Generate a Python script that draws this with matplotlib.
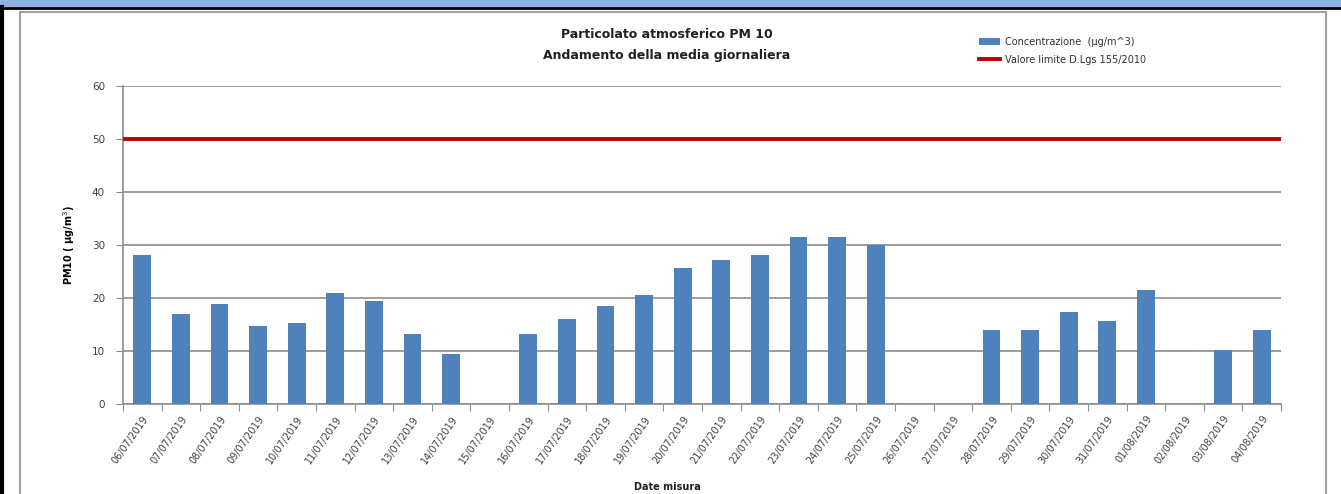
import matplotlib
matplotlib.use("Agg")
import matplotlib.pyplot as plt
from matplotlib.patches import Rectangle
from matplotlib.lines import Line2D
import numpy as np

dates = ["06/07/2019", "07/07/2019", "08/07/2019", "09/07/2019", "10/07/2019",
         "11/07/2019", "12/07/2019", "13/07/2019", "14/07/2019", "15/07/2019",
         "16/07/2019", "17/07/2019", "18/07/2019", "19/07/2019", "20/07/2019",
         "21/07/2019", "22/07/2019", "23/07/2019", "24/07/2019", "25/07/2019",
         "26/07/2019", "27/07/2019", "28/07/2019", "29/07/2019", "30/07/2019",
         "31/07/2019", "01/08/2019", "02/08/2019", "03/08/2019", "04/08/2019"]
concentrazione = [28.1, 17.0, 18.8, 14.7, 15.3, 20.9, 19.5, 13.2, 9.4, np.nan,
                  13.2, 16.0, 18.4, 20.5, 25.7, 27.1, 28.1, 31.5, 31.5, 30.0,
                  np.nan, np.nan, 14.0, 14.0, 17.4, 15.7, 21.5, np.nan, 10.1, 14.0]
limite = 50
yticks = [0, 10, 20, 30, 40, 50, 60]

W, H = 1341, 494
fig = plt.figure(figsize=(W / 100, H / 100), dpi=100)
fig.patch.set_facecolor("white")

# frame decorations (spreadsheet screenshot)
fig.patches.append(Rectangle((0, 1 - 7 / H), 1, 7 / H, transform=fig.transFigure,
                             facecolor="#8DB3E2", edgecolor="none", zorder=0))
fig.lines.append(Line2D([0, 1], [1 - 8 / H, 1 - 8 / H], transform=fig.transFigure,
                        color="black", lw=2))
fig.lines.append(Line2D([1.5 / W, 1.5 / W], [0, 1 - 7 / H], transform=fig.transFigure,
                        color="black", lw=3))
fig.patches.append(Rectangle((20 / W, -0.05), (1326 - 20) / W, 1 - 12 / H + 0.05,
                             transform=fig.transFigure, facecolor="none",
                             edgecolor="#a0a0a0", lw=1.5, zorder=0))

ax = fig.add_axes([123 / W, 1 - 404 / H, (1281 - 123) / W, (404 - 86) / H])
x = np.arange(len(dates))
bars = ax.bar(x, concentrazione, width=0.46, color="#4F81BD", zorder=3,
              label="Concentrazione  (µg/m^3)")
line = ax.axhline(limite, color="#C00000", lw=2.8, zorder=4,
                  label="Valore limite D.Lgs 155/2010")

ax.set_xlim(-0.5, len(dates) - 0.5)
ax.set_ylim(0, 60)
ax.set_yticks(yticks)
ax.yaxis.grid(True, color="#8c8c8c", lw=1.2, zorder=0)
ax.set_axisbelow(True)
for s in ["top", "right"]:
    ax.spines[s].set_visible(False)
for s in ["left", "bottom"]:
    ax.spines[s].set_color("#8c8c8c")
    ax.spines[s].set_linewidth(1.2)
ax.set_xticks(np.arange(len(dates) + 1) - 0.5, minor=False)
ax.set_xticklabels([])
ax.set_xticks(x, minor=True)
ax.set_xticklabels(dates, minor=True, rotation=55, ha="right", rotation_mode="anchor",
                   fontsize=7, color="#404040")
ax.tick_params(axis="x", which="major", length=5, color="#8c8c8c", direction="out")
ax.tick_params(axis="x", which="minor", length=0, pad=7)
ax.tick_params(axis="y", length=5, color="#8c8c8c", labelsize=7.5, labelcolor="#404040", pad=8)

ax.set_ylabel("PM10 ( µg/m$^3$)", fontsize=7, fontweight="bold", labelpad=11)
fig.text(667 / W, 1 - 487 / H, "Date misura", ha="center", va="center",
         fontsize=7, fontweight="bold", color="#202020")

fig.text(667 / W, 1 - 35 / H, "Particolato atmosferico PM 10", ha="center", va="center",
         fontsize=9, fontweight="bold", color="#202020")
fig.text(667 / W, 1 - 56 / H, "Andamento della media giornaliera", ha="center", va="center",
         fontsize=9, fontweight="bold", color="#202020")

leg = fig.legend(handles=[bars, line], loc="upper left",
                 bbox_to_anchor=(970 / W, 1 - 28 / H), frameon=False,
                 fontsize=7, handlelength=2.2, handletextpad=0.5, labelspacing=0.8)
for t in leg.get_texts():
    t.set_color("#303030")

fig.savefig("out.png", dpi=100, facecolor="white")
